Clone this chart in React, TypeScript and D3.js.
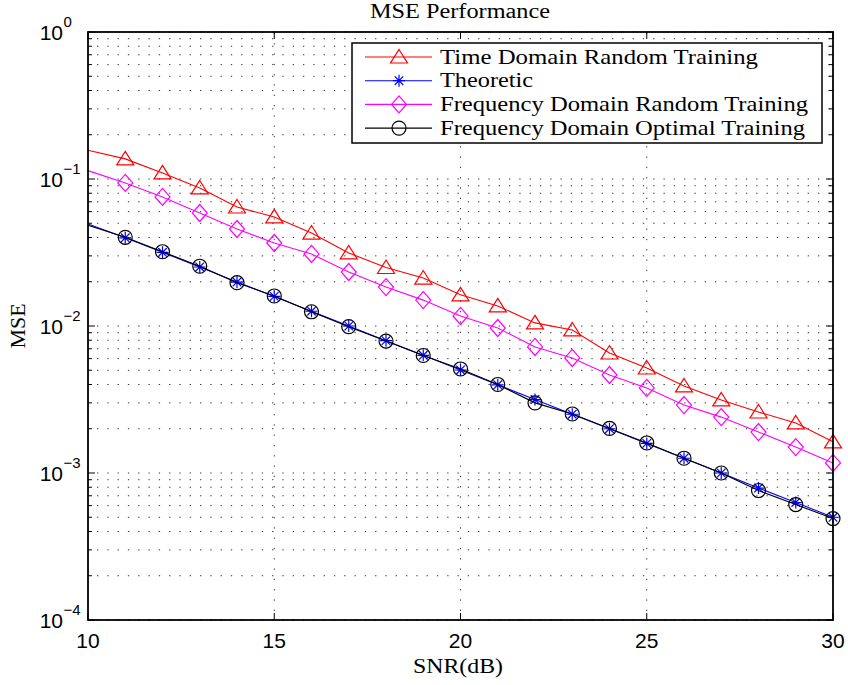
import React from "react";
import * as d3 from "d3";

const snr = [10, 11, 12, 13, 14, 15, 16, 17, 18, 19, 20, 21, 22, 23, 24, 25, 26, 27, 28, 29, 30];
const timeRandom = [0.157, 0.137, 0.110, 0.0869, 0.0645, 0.0552, 0.0429, 0.0314, 0.0250, 0.0212, 0.0163, 0.0137, 0.0105, 0.0094, 0.00655, 0.00518, 0.00391, 0.00314, 0.00260, 0.00219, 0.00163];
const theoretic = [0.0495, 0.0398, 0.0317, 0.0252, 0.0199, 0.0159, 0.0126, 0.0100, 0.00795, 0.00632, 0.00502, 0.00398, 0.00316, 0.00251, 0.00200, 0.00159, 0.00126, 0.00100, 0.00079, 0.00063, 0.00050];
const freqRandom = [0.114, 0.094, 0.0755, 0.0587, 0.0457, 0.0367, 0.0309, 0.0233, 0.0184, 0.0150, 0.0117, 0.00969, 0.00720, 0.00606, 0.00464, 0.00379, 0.00290, 0.00240, 0.00190, 0.00150, 0.00117];
const freqOptimal = [0.0485, 0.0401, 0.0320, 0.0255, 0.0197, 0.0160, 0.0125, 0.0099, 0.0079, 0.0063, 0.0051, 0.0040, 0.0030, 0.00252, 0.00201, 0.00160, 0.00126, 0.00100, 0.00076, 0.00061, 0.00049];

const seriesNames = [
  "Time Domain Random Training",
  "Theoretic",
  "Frequency Domain Random Training",
  "Frequency Domain Optimal Training",
];
const seriesColors = ["#ff0000", "#0000ff", "#ff00ff", "#000000"];
const seriesMarkers = ["triangle", "asterisk", "diamond", "circle"];
const seriesValues = [timeRandom, theoretic, freqRandom, freqOptimal];
const legendWidths = [318, 93, 368, 365];

const xTicks = [10, 15, 20, 25, 30];
const yExponents = [-4, -3, -2, -1, 0];

const W = 848;
const H = 685;
const L = 88, R = 833, T = 32, B = 620;

const SANS = "'Liberation Sans', Arial, Helvetica, sans-serif";
const SERIF = "'Liberation Serif', 'Times New Roman', serif";

function Marker({ type, cx, cy, color }: { type: string; cx: number; cy: number; color: string }) {
  const sw = 1.2;
  if (type === "triangle") {
    const p = `M${cx},${cy - 7.5} L${cx + 8.5},${cy + 6} L${cx - 8.5},${cy + 6} Z`;
    return <path d={p} fill="none" stroke={color} strokeWidth={sw} />;
  }
  if (type === "diamond") {
    const p = `M${cx},${cy - 8.5} L${cx + 7.5},${cy} L${cx},${cy + 8.5} L${cx - 7.5},${cy} Z`;
    return <path d={p} fill="none" stroke={color} strokeWidth={sw} />;
  }
  if (type === "circle") {
    return <circle cx={cx} cy={cy} r={7} fill="none" stroke={color} strokeWidth={sw} />;
  }
  const a = 6, d = 4.3;
  const p = `M${cx - a},${cy} L${cx + a},${cy} M${cx},${cy - a} L${cx},${cy + a} M${cx - d},${cy - d} L${cx + d},${cy + d} M${cx - d},${cy + d} L${cx + d},${cy - d}`;
  return <path d={p} fill="none" stroke={color} strokeWidth={sw} />;
}

export default function App() {
  const x = d3.scaleLinear().domain([10, 30]).range([L, R]);
  const y = d3.scaleLog().domain([1e-4, 1]).range([B, T]);

  const minorY: number[] = [];
  for (let e = -4; e < 0; e++) {
    for (let m = 2; m <= 9; m++) minorY.push(m * Math.pow(10, e));
  }
  const majorY = yExponents.map((e) => Math.pow(10, e));
  const gridX = [15, 20, 25];

  const line = d3
    .line<[number, number]>()
    .x((d) => x(d[0]))
    .y((d) => y(d[1]));

  const dot = "1.3,9";
  const gridColor = "#333";

  return (
    <svg width={W} height={H} style={{ position: "absolute", left: 0, top: 0, background: "#fff" }}>
      <rect x={0} y={0} width={W} height={H} fill="#fff" />
      {/* grid */}
      {[...minorY, ...majorY].map((v, i) => (
        <line key={"gy" + i} x1={L} x2={R} y1={y(v)} y2={y(v)} stroke={gridColor} strokeWidth={1} strokeDasharray={dot} strokeDashoffset={-9} />
      ))}
      {gridX.map((v, i) => (
        <line key={"gx" + i} x1={x(v)} x2={x(v)} y1={B} y2={T} stroke={gridColor} strokeWidth={1} strokeDasharray={dot} strokeDashoffset={-9} />
      ))}
      {/* series */}
      {seriesValues.map((vals, si) => {
        const pts: [number, number][] = snr.map((s, i) => [s, vals[i]]);
        return (
          <g key={"s" + si}>
            <path d={line(pts) || ""} fill="none" stroke={seriesColors[si]} strokeWidth={1.1} />
            {pts.slice(1).map((p, i) => (
              <Marker key={i} type={seriesMarkers[si]} cx={x(p[0])} cy={y(p[1])} color={seriesColors[si]} />
            ))}
          </g>
        );
      })}
      {/* ticks */}
      {minorY.map((v, i) => (
        <g key={"my" + i}>
          <line x1={L} x2={L + 4} y1={y(v)} y2={y(v)} stroke="#000" strokeWidth={1} />
          <line x1={R} x2={R - 4} y1={y(v)} y2={y(v)} stroke="#000" strokeWidth={1} />
        </g>
      ))}
      {majorY.map((v, i) => (
        <g key={"My" + i}>
          <line x1={L} x2={L + 7} y1={y(v)} y2={y(v)} stroke="#000" strokeWidth={1} />
          <line x1={R} x2={R - 7} y1={y(v)} y2={y(v)} stroke="#000" strokeWidth={1} />
        </g>
      ))}
      {xTicks.map((v, i) => (
        <g key={"xt" + i}>
          <line x1={x(v)} x2={x(v)} y1={B} y2={B - 7} stroke="#000" strokeWidth={1} />
          <line x1={x(v)} x2={x(v)} y1={T} y2={T + 7} stroke="#000" strokeWidth={1} />
        </g>
      ))}
      {/* axes box */}
      <rect x={L} y={T} width={R - L} height={B - T} fill="none" stroke="#000" strokeWidth={1.8} />
      {/* tick labels */}
      {xTicks.map((v, i) => (
        <text key={"xl" + i} x={x(v)} y={648} textAnchor="middle" fontFamily={SANS} fontSize={21} fill="#000">
          {v}
        </text>
      ))}
      {yExponents.map((e, i) => (
        <g key={"yl" + i}>
          <text x={63} y={y(Math.pow(10, e)) + 7.5} textAnchor="end" fontFamily={SANS} fontSize={21} fill="#000">
            10
          </text>
          <text x={63.5} y={y(Math.pow(10, e)) - 5.5} textAnchor="start" fontFamily={SANS} fontSize={15} fill="#000">
            {e < 0 ? "\u2212" + Math.abs(e) : String(e)}
          </text>
        </g>
      ))}
      {/* title and labels */}
      <text x={460} y={18} textAnchor="middle" fontFamily={SERIF} fontSize={20} textLength={180} lengthAdjust="spacingAndGlyphs" fill="#000">
        MSE Performance
      </text>
      <text x={458} y={673} textAnchor="middle" fontFamily={SERIF} fontSize={20} textLength={90} lengthAdjust="spacingAndGlyphs" fill="#000">
        SNR(dB)
      </text>
      <text transform={`translate(25,${(T + B) / 2}) rotate(-90)`} textAnchor="middle" fontFamily={SERIF} fontSize={20} textLength={45} lengthAdjust="spacingAndGlyphs" fill="#000">
        MSE
      </text>
      {/* legend */}
      <rect x={352} y={43} width={470} height={100} fill="#fff" stroke="#000" strokeWidth={1.5} />
      {seriesNames.map((name, i) => {
        const cy = 57 + i * 23.7;
        return (
          <g key={"lg" + i}>
            <line x1={365} x2={432} y1={cy} y2={cy} stroke={seriesColors[i]} strokeWidth={1.1} />
            <Marker type={seriesMarkers[i]} cx={399} cy={cy} color={seriesColors[i]} />
            <text x={440} y={cy + 6.7} fontFamily={SERIF} fontSize={21} textLength={legendWidths[i]} lengthAdjust="spacingAndGlyphs" fill="#000">
              {name}
            </text>
          </g>
        );
      })}
    </svg>
  );
}
